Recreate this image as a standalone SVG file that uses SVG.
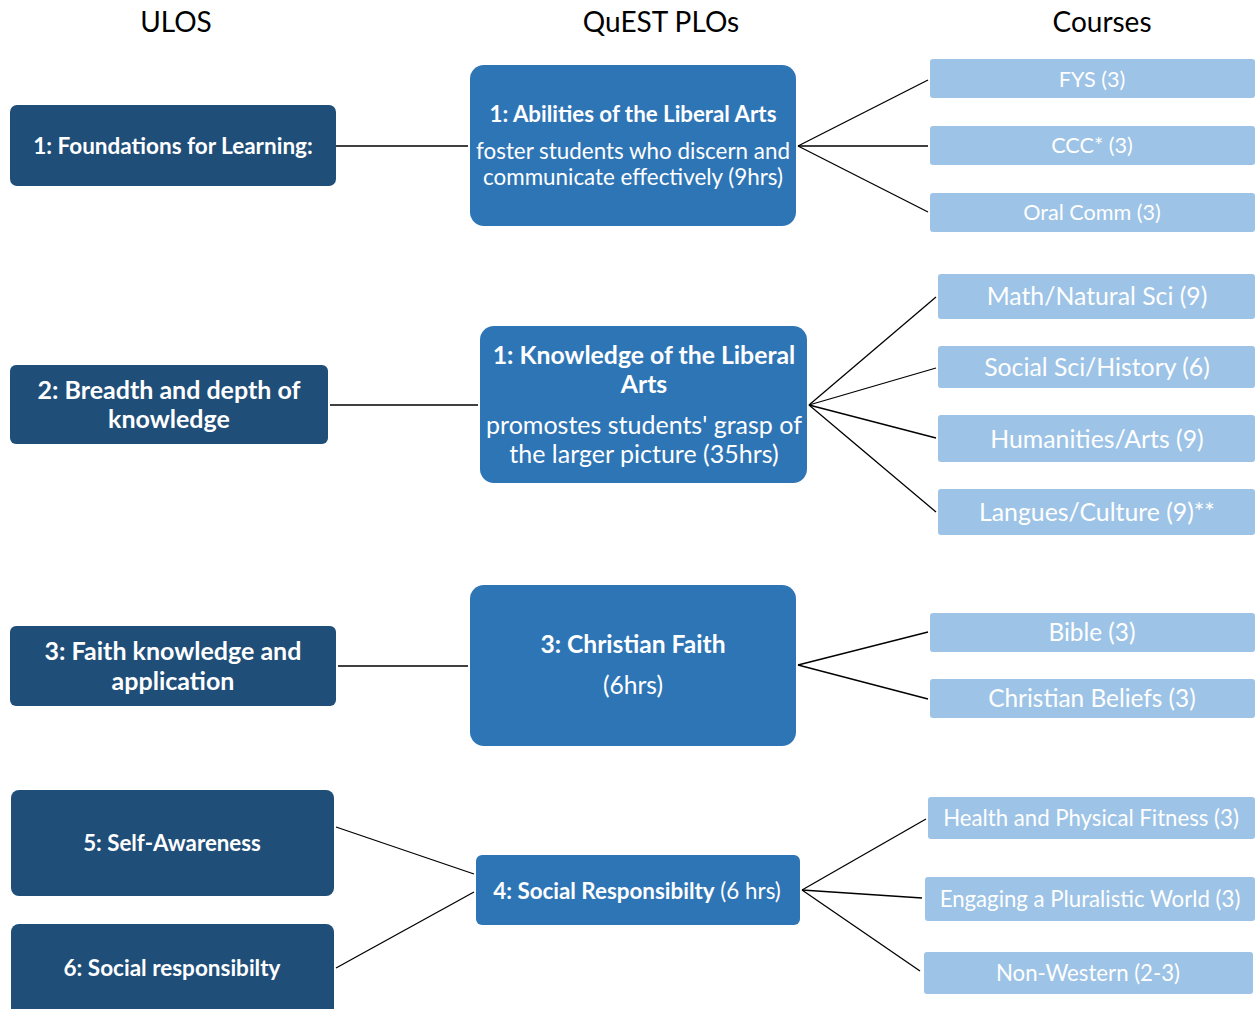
<svg xmlns="http://www.w3.org/2000/svg" width="1255" height="1009" viewBox="0 0 1255 1009">
<style>
text{font-family:Lato,"Open Sans","Liberation Sans",sans-serif;text-anchor:middle;fill:#fff}
.h{fill:#000;font-size:28px}
.dk{fill:#1F4E79}
.md{fill:#2E75B6}
.lt{fill:#9DC3E6}
.b{font-weight:bold}
.c line{stroke:#000;stroke-width:1.3}
</style>
<rect width="1255" height="1009" fill="#fff"/>
<g id="headers">
<text class="h" x="176" y="32" font-size="26.5">ULOS</text>
<text class="h" x="661" y="32">QuEST PLOs</text>
<text class="h" x="1102" y="32" font-size="29">Courses</text>
</g>
<g id="connectors" class="c">
<line x1="336" y1="146" x2="468" y2="146"/>
<line x1="798" y1="146" x2="928" y2="80"/>
<line x1="798" y1="146" x2="928" y2="146"/>
<line x1="798" y1="146" x2="928" y2="212"/>
<line x1="330" y1="405" x2="478" y2="405"/>
<line x1="809" y1="405" x2="936" y2="297"/>
<line x1="809" y1="405" x2="936" y2="368"/>
<line x1="809" y1="405" x2="936" y2="438"/>
<line x1="809" y1="405" x2="936" y2="512"/>
<line x1="338" y1="666" x2="468" y2="666"/>
<line x1="798" y1="665" x2="928" y2="632"/>
<line x1="798" y1="665" x2="928" y2="699"/>
<line x1="336" y1="827" x2="474" y2="874"/>
<line x1="336" y1="968" x2="474" y2="892"/>
<line x1="802" y1="890" x2="926" y2="819"/>
<line x1="802" y1="890" x2="922" y2="898"/>
<line x1="802" y1="890" x2="920" y2="971"/>
</g>
<g id="ulo1"><rect class="dk" x="10" y="105" width="326" height="81" rx="7"/><text class="b" x="173" y="154" font-size="22.5">1: Foundations for Learning:</text></g>
<g id="ulo2"><rect class="dk" x="10" y="365" width="318" height="79" rx="6"/><text class="b" font-size="25" x="169" y="399">2: Breadth and depth of</text><text class="b" font-size="25" x="169" y="428">knowledge</text></g>
<g id="ulo3"><rect class="dk" x="10" y="626" width="326" height="80" rx="6"/><text class="b" font-size="25" x="173" y="660">3: Faith knowledge and</text><text class="b" font-size="25" x="173" y="690">application</text></g>
<g id="ulo5"><rect class="dk" x="11" y="790" width="323" height="106" rx="8"/><text class="b" font-size="22.3" x="172" y="851">5: Self-Awareness</text></g>
<g id="ulo6"><rect class="dk" x="11" y="924" width="323" height="100" rx="8"/><text class="b" font-size="22.5" x="172" y="976">6: Social responsibilty</text></g>
<g id="plo1"><rect class="md" x="470" y="65" width="326" height="161" rx="14"/><text class="b" font-size="22.3" x="633" y="122">1: Abilities of the Liberal Arts</text><text font-size="22.4" x="633" y="159">foster students who discern and</text><text font-size="22.4" x="633" y="185">communicate effectively (9hrs)</text></g>
<g id="plo2"><rect class="md" x="480" y="326" width="327" height="157" rx="14"/><text class="b" font-size="24.8" x="644" y="364">1: Knowledge of the Liberal</text><text class="b" font-size="24.8" x="644" y="393">Arts</text><text font-size="25" x="644" y="434">promostes students' grasp of</text><text font-size="25" x="644" y="463">the larger picture (35hrs)</text></g>
<g id="plo3"><rect class="md" x="470" y="585" width="326" height="161" rx="14"/><text class="b" font-size="24.6" x="633" y="653">3: Christian Faith</text><text font-size="24.6" x="633" y="694">(6hrs)</text></g>
<g id="plo4"><rect class="md" x="476" y="855" width="324" height="70" rx="6"/><text font-size="22.4" x="637" y="899"><tspan font-weight="bold">4: Social Responsibilty</tspan> (6 hrs)</text></g>
<g id="c1"><rect class="lt" x="930" y="59" width="325" height="39" rx="3"/><text font-size="21.6" x="1092" y="87">FYS (3)</text></g>
<g id="c2"><rect class="lt" x="930" y="126" width="325" height="39" rx="3"/><text font-size="21.6" x="1092" y="153">CCC* (3)</text></g>
<g id="c3"><rect class="lt" x="930" y="193" width="325" height="39" rx="3"/><text font-size="21.6" x="1092" y="220">Oral Comm (3)</text></g>
<g id="c4"><rect class="lt" x="938" y="274" width="317" height="45" rx="3"/><text font-size="24.8" x="1097" y="305">Math/Natural Sci (9)</text></g>
<g id="c5"><rect class="lt" x="938" y="346" width="317" height="42" rx="3"/><text font-size="24.8" x="1097" y="376">Social Sci/History (6)</text></g>
<g id="c6"><rect class="lt" x="938" y="415" width="317" height="47" rx="3"/><text font-size="24.8" x="1097" y="448">Humanities/Arts (9)</text></g>
<g id="c7"><rect class="lt" x="938" y="489" width="317" height="46" rx="3"/><text font-size="24.8" x="1097" y="521">Langues/Culture (9)**</text></g>
<g id="c8"><rect class="lt" x="930" y="613" width="325" height="39" rx="3"/><text font-size="24.4" x="1092" y="641">Bible (3)</text></g>
<g id="c9"><rect class="lt" x="930" y="679" width="325" height="39" rx="3"/><text font-size="24.4" x="1092" y="707">Christian Beliefs (3)</text></g>
<g id="c10"><rect class="lt" x="928" y="797" width="327" height="42" rx="3"/><text font-size="22.2" x="1091" y="826">Health and Physical Fitness (3)</text></g>
<g id="c11"><rect class="lt" x="925" y="877" width="330" height="44" rx="3"/><text font-size="22.2" x="1090" y="907">Engaging a Pluralistic World (3)</text></g>
<g id="c12"><rect class="lt" x="924" y="952" width="329" height="42" rx="3"/><text font-size="22.2" x="1088" y="981">Non-Western (2-3)</text></g>
</svg>
